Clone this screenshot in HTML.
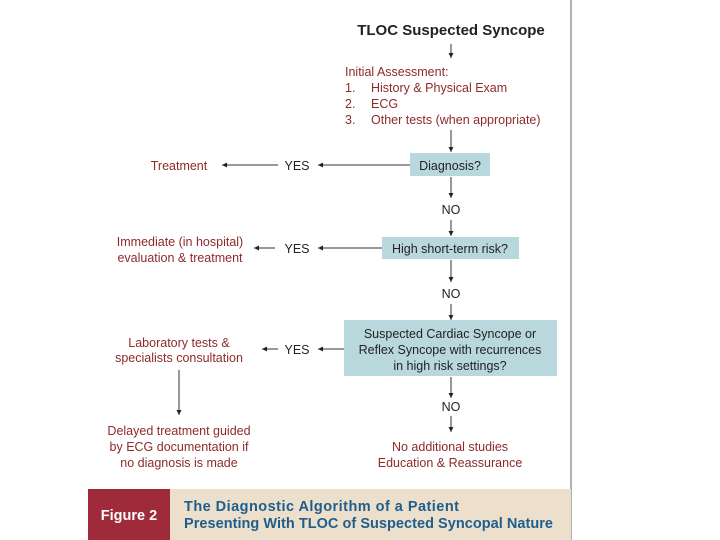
<!DOCTYPE html>
<html><head><meta charset="utf-8"><style>
html,body{margin:0;padding:0;background:#fff;}
svg{display:block;}
text{font-family:"Liberation Sans",Arial,sans-serif;}
.r{fill:#8e2a2a;font-size:12.5px;}
.k{fill:#222;font-size:12.5px;}
</style></head><body>
<svg width="720" height="540" viewBox="0 0 720 540" xmlns="http://www.w3.org/2000/svg">
<defs><marker id="a" markerWidth="6" markerHeight="6" refX="5" refY="3" orient="auto" markerUnits="userSpaceOnUse"><path d="M0,0.5 L5,3 L0,5.5 z" fill="#222"/></marker></defs>
<line x1="571" y1="0" x2="571" y2="540" stroke="#999" stroke-width="1.5"/>
<g stroke="#333" stroke-width="1" fill="none" marker-end="url(#a)">
<line x1="451" y1="44" x2="451" y2="58"/>
<line x1="451" y1="130" x2="451" y2="152"/>
<line x1="410" y1="165" x2="318" y2="165"/>
<line x1="278" y1="165" x2="222" y2="165"/>
<line x1="451" y1="177" x2="451" y2="198"/>
<line x1="451" y1="220" x2="451" y2="236"/>
<line x1="382" y1="248" x2="318" y2="248"/>
<line x1="275" y1="248" x2="254" y2="248"/>
<line x1="451" y1="260" x2="451" y2="282"/>
<line x1="451" y1="304" x2="451" y2="320"/>
<line x1="344" y1="349" x2="318" y2="349"/>
<line x1="278" y1="349" x2="262" y2="349"/>
<line x1="179" y1="370" x2="179" y2="415"/>
<line x1="451" y1="377" x2="451" y2="398"/>
<line x1="451" y1="416" x2="451" y2="432"/>
</g>
<rect x="410" y="153" width="80" height="23" fill="#b8d8de"/>
<rect x="382" y="237" width="137" height="22" fill="#b8d8de"/>
<rect x="344" y="320" width="213" height="56" fill="#b8d8de"/>
<text x="451" y="35" text-anchor="middle" font-weight="bold" font-size="15" fill="#222">TLOC Suspected Syncope</text>
<text class="r" x="345" y="76">Initial Assessment:</text>
<text class="r" x="345" y="92">1.</text><text class="r" x="371" y="92">History &amp; Physical Exam</text>
<text class="r" x="345" y="108">2.</text><text class="r" x="371" y="108">ECG</text>
<text class="r" x="345" y="124">3.</text><text class="r" x="371" y="124">Other tests (when appropriate)</text>
<text class="k" x="450" y="170" text-anchor="middle">Diagnosis?</text>
<text class="k" x="297" y="170" text-anchor="middle">YES</text>
<text class="r" x="179" y="170" text-anchor="middle">Treatment</text>
<text class="k" x="451" y="214" text-anchor="middle">NO</text>
<text class="k" x="450" y="253" text-anchor="middle">High short-term risk?</text>
<text class="k" x="297" y="253" text-anchor="middle">YES</text>
<text class="r" x="180" y="246" text-anchor="middle">Immediate (in hospital)</text>
<text class="r" x="180" y="262" text-anchor="middle">evaluation &amp; treatment</text>
<text class="k" x="451" y="298" text-anchor="middle">NO</text>
<text class="k" x="450" y="338" text-anchor="middle">Suspected Cardiac Syncope or</text>
<text class="k" x="450" y="354" text-anchor="middle">Reflex Syncope with recurrences</text>
<text class="k" x="450" y="370" text-anchor="middle">in high risk settings?</text>
<text class="k" x="297" y="354" text-anchor="middle">YES</text>
<text class="r" x="179" y="347" text-anchor="middle">Laboratory tests &amp;</text>
<text class="r" x="179" y="362" text-anchor="middle">specialists consultation</text>
<text class="k" x="451" y="411" text-anchor="middle">NO</text>
<text class="r" x="179" y="435" text-anchor="middle">Delayed treatment guided</text>
<text class="r" x="179" y="451" text-anchor="middle">by ECG documentation if</text>
<text class="r" x="179" y="467" text-anchor="middle">no diagnosis is made</text>
<text class="r" x="450" y="451" text-anchor="middle">No additional studies</text>
<text class="r" x="450" y="467" text-anchor="middle">Education &amp; Reassurance</text>
<rect x="88" y="489" width="82" height="51" fill="#9e2a3a"/>
<rect x="170" y="489" width="401" height="51" fill="#ece0cc"/>
<text x="129" y="520" text-anchor="middle" font-weight="bold" font-size="14.5" fill="#fff">Figure 2</text>
<text x="184" y="511" font-weight="bold" font-size="14.5" fill="#1f5d8c" textLength="275">The Diagnostic Algorithm of a Patient</text>
<text x="184" y="528" font-weight="bold" font-size="14.5" fill="#1f5d8c" textLength="369">Presenting With TLOC of Suspected Syncopal Nature</text>
</svg>
</body></html>
